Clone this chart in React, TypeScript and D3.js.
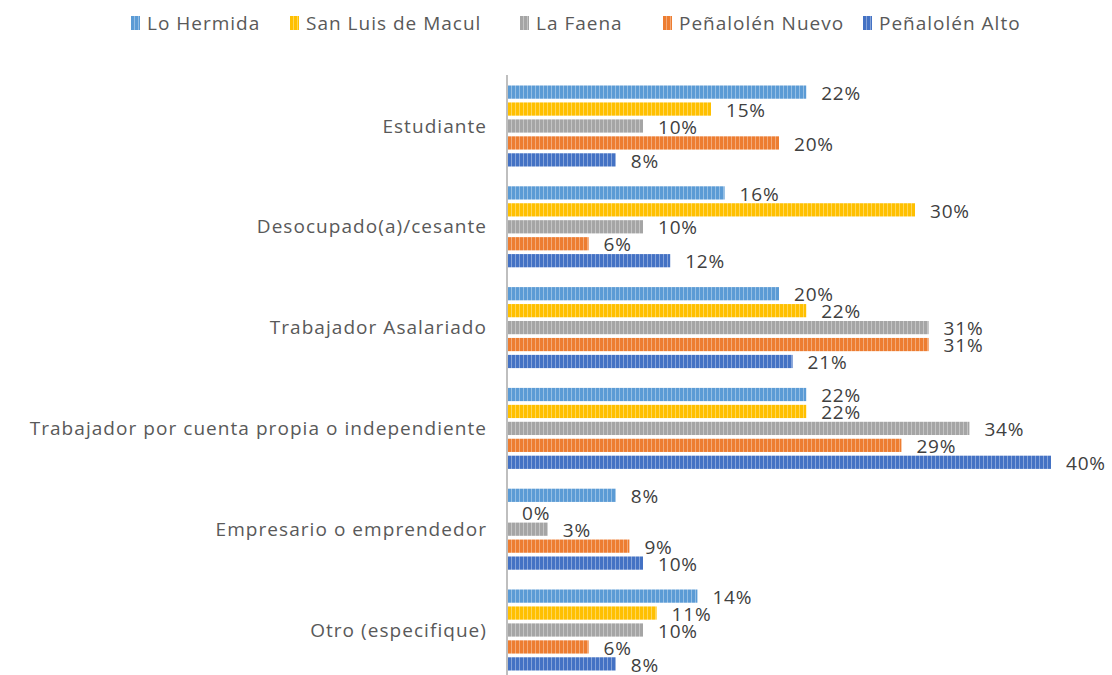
import * as d3 from 'd3';

const categories = [
  'Estudiante',
  'Desocupado(a)/cesante',
  'Trabajador Asalariado',
  'Trabajador por cuenta propia o independiente',
  'Empresario o emprendedor',
  'Otro (especifique)',
];

const seriesNames = ['Lo Hermida', 'San Luis de Macul', 'La Faena', 'Peñalolén Nuevo', 'Peñalolén Alto'];
const seriesColors = ['#5b9bd5', '#ffc000', '#a5a5a5', '#ed7d31', '#4472c4'];

// percentages per category, one array per series
const loHermida = [22, 16, 20, 22, 8, 14];
const sanLuisDeMacul = [15, 30, 22, 22, 0, 11];
const laFaena = [10, 10, 31, 34, 3, 10];
const penalolenNuevo = [20, 6, 31, 29, 9, 6];
const penalolenAlto = [8, 12, 21, 40, 10, 8];

const seriesValues = [loHermida, sanLuisDeMacul, laFaena, penalolenNuevo, penalolenAlto];

const W = 1112;
const H = 675;
const FONT = "'Open Sans', 'Liberation Sans', sans-serif";

export default function App() {
  const x = d3.scaleLinear().domain([0, 40]).range([507, 1051]);
  const y = d3.scaleBand<string>().domain(categories).range([75.6, 680.4]).padding(0);
  const inner = d3
    .scaleBand<string>()
    .domain(seriesNames)
    .range([0, 81])
    .paddingInner(0.22);
  const groupOffset = (y.bandwidth() - 81) / 2;

  // legend marker x positions
  const legendX = [131, 290, 520, 663, 863];

  return (
    <svg width={W} height={H} style={{ position: 'absolute', left: 0, top: 0, background: '#fff' }}>
      <defs>
        {seriesColors.map((c, i) => (
          <pattern key={i} id={`stripe${i}`} width={4} height={10} patternUnits="userSpaceOnUse">
            <rect width={4} height={10} fill={c} />
            <rect x={3} width={1} height={10} fill="#fff" opacity={0.35} />
          </pattern>
        ))}
      </defs>

      {/* legend */}
      {seriesNames.map((name, i) => (
        <g key={name} transform={`translate(${legendX[i]},23)`}>
          <rect x={0} y={-7} width={9} height={14} fill={`url(#stripe${i})`} />
          <text
            x={16}
            y={0}
            dy="0.35em"
            fontFamily={FONT}
            fontSize={19}
            letterSpacing={1}
            fill="#595959"
          >
            {name}
          </text>
        </g>
      ))}

      {/* category labels */}
      {categories.map((cat) => (
        <text
          key={cat}
          x={487}
          y={(y(cat) ?? 0) + y.bandwidth() / 2}
          dy="0.35em"
          textAnchor="end"
          fontFamily={FONT}
          fontSize={19}
          letterSpacing={1.05}
          fill="#595959"
        >
          {cat}
        </text>
      ))}

      {/* bars */}
      {categories.map((cat, ci) => (
        <g key={cat} transform={`translate(0,${(y(cat) ?? 0) + groupOffset})`}>
          {seriesNames.map((s, si) => {
            const v = seriesValues[si][ci];
            const by = inner(s) ?? 0;
            const bh = inner.bandwidth();
            return (
              <g key={s}>
                {v > 0 && (
                  <rect
                    x={x(0)}
                    y={by}
                    width={x(v) - x(0)}
                    height={bh}
                    fill={`url(#stripe${si})`}
                  />
                )}
                <text
                  x={x(v) + 15}
                  y={by + bh / 2 + 1}
                  dy="0.35em"
                  fontFamily={FONT}
                  fontSize={19}
                  letterSpacing={0.8}
                  fill="#404040"
                >
                  {`${v}%`}
                </text>
              </g>
            );
          })}
        </g>
      ))}

      {/* axis line */}
      <line x1={x(0)} x2={x(0)} y1={75} y2={H} stroke="#bfbfbf" strokeWidth={2} />
    </svg>
  );
}
